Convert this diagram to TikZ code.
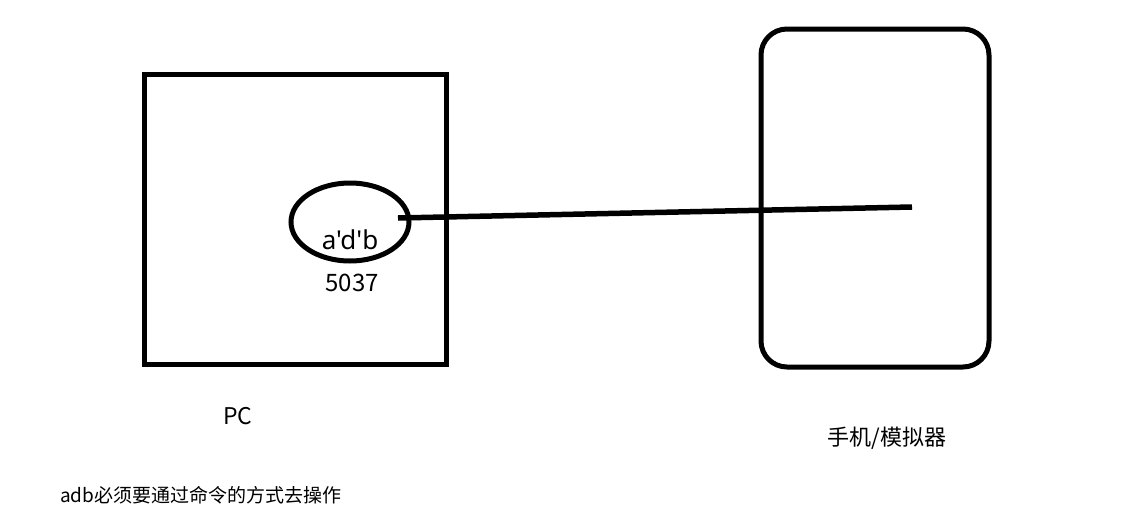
\documentclass[tikz,border=0pt]{standalone}
\usepackage{fontspec}
\setmainfont{Noto Sans CJK SC}
\newfontfamily\latinf[Ligatures=NoCommon]{Noto Sans}
\usetikzlibrary{shapes.geometric}
\begin{document}
\begin{tikzpicture}[x=1pt,y=-1pt,
  lbl/.style={inner sep=0pt}]
\useasboundingbox (0,0) rectangle (1128,522);
\node[draw, line width=5pt, minimum width=302pt, minimum height=290pt, inner sep=0pt] (pc) at (295,219) {};
\node[draw, line width=5pt, ellipse, minimum width=118pt, minimum height=78pt, inner sep=0pt] (port) at (350,222) {};
\node[lbl, font=\latinf\fontsize{26}{30}\selectfont] (adb) at (350,240) {a\symbol{"27}d\symbol{"27}b};
\node[lbl, font=\fontsize{24}{26}\selectfont] (num) at (352,283) {5037};
\node[draw, line width=5pt, rounded corners=26pt, minimum width=228pt, minimum height=338pt, inner sep=0pt] (phone) at (875,198) {};
\coordinate (e1) at (398,218);
\coordinate (e2) at (912,207);
\draw[line width=5.5pt] (e1) -- (e2);
\node[lbl, font=\fontsize{23}{26}\selectfont] (pcl) at (238,416) {PC};
\node[lbl, font=\fontsize{22}{26}\selectfont] (phl) at (887,438) {手机/模拟器};
\node[lbl, anchor=west, font=\fontsize{19}{22}\selectfont] (note) at (60,495) {adb必须要通过命令的方式去操作};
\end{tikzpicture}
\end{document}
